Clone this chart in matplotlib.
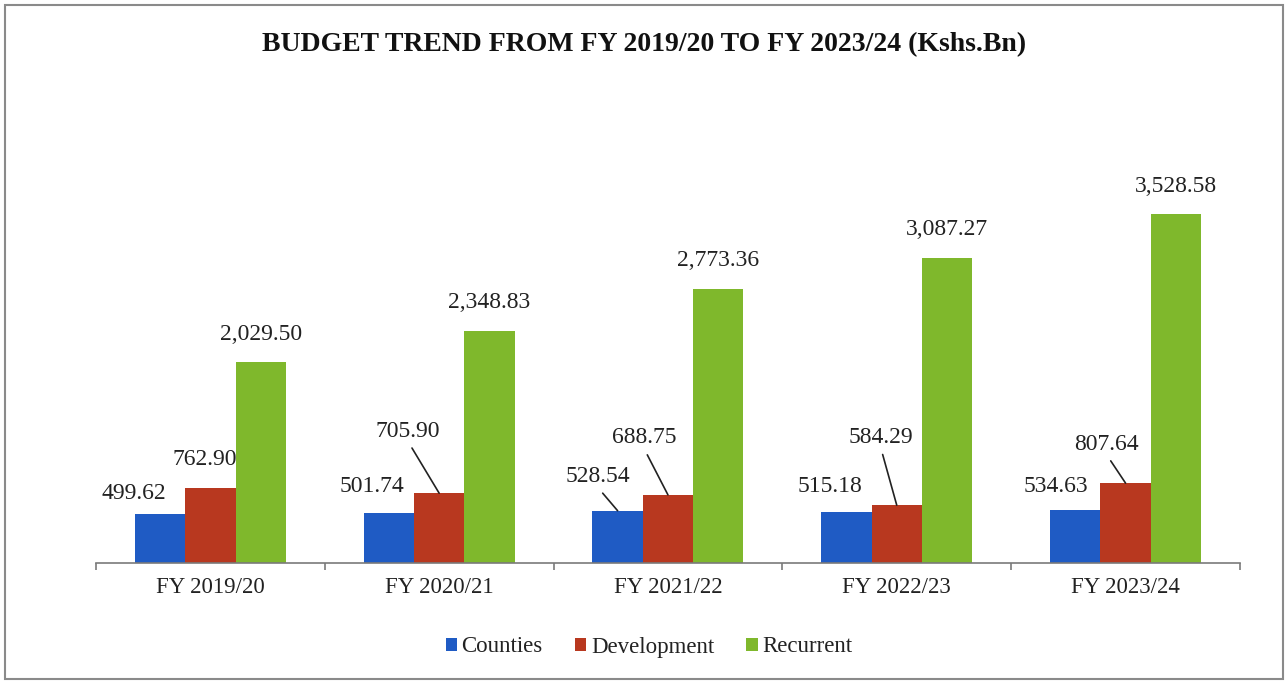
import matplotlib.pyplot as plt
from matplotlib.patches import Rectangle
import numpy as np

years = ['FY 2019/20', 'FY 2020/21', 'FY 2021/22', 'FY 2022/23', 'FY 2023/24']
counties = [499.62, 501.74, 528.54, 515.18, 534.63]
development = [762.90, 705.90, 688.75, 584.29, 807.64]
recurrent = [2029.50, 2348.83, 2773.36, 3087.27, 3528.58]

plt.rcParams['font.family'] = ['Liberation Serif', 'DejaVu Serif']

colors = ['#1f5bc4', '#b8381f', '#7fb82c']
names = ['Counties', 'Development', 'Recurrent']

# label centre offsets in pixels (dx, dy) from bar top centre, and whether a leader line is drawn
cnt_off = [(-26, 20), (-17, 27), (-20, 34), (-16, 26), (-19, 24)]
cnt_line = [False, False, True, False, False]
dev_off = [(-6, 28), (-31, 62), (-24, 57), (-16, 68), (-19, 39)]
dev_line = [False, True, True, True, True]
rec_off = [(0, 28)] * 5
rec_line = [False] * 5

fig = plt.figure(figsize=(12.88, 6.82), dpi=100)
ax = fig.add_axes([0.0745, 0.1745, 0.8882, 0.58])

x = np.arange(len(years))
w = 0.22
series = [counties, development, recurrent]
offsets = [cnt_off, dev_off, rec_off]
lines = [cnt_line, dev_line, rec_line]

for i, (vals, name, col) in enumerate(zip(series, names, colors)):
    xs = x + (i - 1) * w
    ax.bar(xs, vals, width=w, color=col, label=name)
    for xi, v, off, ln in zip(xs, vals, offsets[i], lines[i]):
        arrow = None
        if ln:
            arrow = dict(arrowstyle='-', color='#222222', lw=1.2,
                         shrinkA=3, shrinkB=0, relpos=(0.5, 0))
        ax.annotate(f'{v:,.2f}', xy=(xi, v), xytext=off, textcoords='offset pixels',
                    ha='center', va='center', fontsize=17, color='#222222',
                    arrowprops=arrow)

ax.set_xlim(-0.5, len(years) - 0.5)
ax.set_ylim(0, 4000)
for s in ['top', 'right', 'left']:
    ax.spines[s].set_visible(False)
ax.spines['bottom'].set_color('#7a7a7a')
ax.spines['bottom'].set_linewidth(1.2)
ax.set_yticks([])
ax.set_xticks(x)
ax.set_xticklabels(years, fontsize=16.5, color='#222222')
ax.tick_params(axis='x', which='major', length=0, pad=10)
ax.set_xticks(np.arange(-0.5, len(years)), minor=True)
ax.tick_params(axis='x', which='minor', length=5, color='#7a7a7a', width=1.2)

fig.text(0.5, 1 - 45 / 682, 'BUDGET TREND FROM FY 2019/20 TO FY 2023/24 (Kshs.Bn)',
         ha='center', va='center', fontsize=20, fontweight='bold', color='#111111')

fig.legend(loc='center', bbox_to_anchor=(649 / 1288, 1 - 647 / 682), ncol=3,
           frameon=False, fontsize=16.5, handlelength=0.5, handleheight=0.5,
           handletextpad=0.2, columnspacing=1.4, labelcolor='#222222')

fig.patches.append(Rectangle((0.004, 0.004), 0.992, 0.988, transform=fig.transFigure,
                             fill=False, edgecolor='#8a8a8a', lw=1.5))

fig.savefig('out.png', dpi=100)
